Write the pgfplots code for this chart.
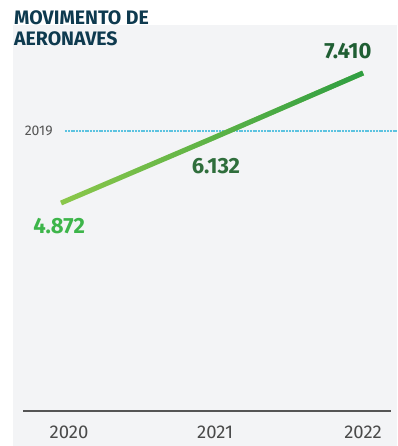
\documentclass[border=0pt]{standalone}
\usepackage{pgfplots}
\pgfplotsset{compat=1.18}
\usepackage{fontspec}
\setmainfont{Fira Sans}
\usetikzlibrary{fadings}
\definecolor{bg}{HTML}{F3F4F6}
\definecolor{titlec}{HTML}{0E3A4F}
\definecolor{axisc}{HTML}{555555}
\definecolor{tickc}{HTML}{4A4A4A}
\definecolor{refc}{HTML}{5CC3E0}
\definecolor{lightg}{HTML}{8CC84B}
\definecolor{darkg}{HTML}{2E9E43}
\definecolor{lab1}{HTML}{3DB54A}
\definecolor{lab2}{HTML}{2F6E3C}
\definecolor{lab3}{HTML}{1F5E33}
\tikzfading[name=gfade, left color=transparent!100, middle color=transparent!85, right color=transparent!0]
\begin{document}
\begin{tikzpicture}[x=1pt,y=1pt]
\path[use as bounding box] (0,0) rectangle (397,446);
\fill[bg] (13,0) rectangle (397,421);
\node[anchor=base west, inner sep=0, font=\fontsize{19.5}{19.5}\selectfont\bfseries, text=titlec] at (14,421.7) {MOVIMENTO DE};
\node[anchor=base west, inner sep=0, font=\fontsize{19.5}{19.5}\selectfont\bfseries, text=titlec] at (14,400.3) {AERONAVES};
\begin{axis}[
  at={(23pt,35pt)}, anchor=south west, scale only axis,
  width=368pt, height=386pt,
  xmin=2019.748, xmax=2022.185, ymin=811, ymax=8347,
  clip=false,
  axis x line*=bottom, axis y line=none,
  x axis line style={draw=axisc, line width=1.5pt, -},
  xtick={2020.053,2021.02,2022},
  xticklabels={2020,2021,2022},
  major tick length=0pt,
  xtick style={draw=none},
  xticklabel style={font=\fontsize{18.5}{18.5}\selectfont, text=tickc, anchor=north, inner sep=0pt, yshift=-15pt},
  /pgf/number format/assume math mode=true,
]
\addplot[refc, line width=2.2pt, dash pattern=on 2pt off 0.8pt] coordinates {(2020.026,6278) (2022.225,6278)};
\addplot[lightg, line width=5pt] coordinates {(2020,4872) (2021,6132) (2022,7410)};
\addplot[darkg, line width=5pt, path fading=gfade] coordinates {(2020,4872) (2021,6132) (2022,7410)};
\node[font=\fontsize{14}{14}\selectfont, text=axisc] at (axis cs:2019.852,6278) {2019};
\node[font=\fontsize{22}{22}\selectfont\bfseries, text=lab1] at (axis cs:2019.987,4416) {4.872};
\node[font=\fontsize{22}{22}\selectfont\bfseries, text=lab2] at (axis cs:2021.026,5583) {6.132};
\node[font=\fontsize{22}{22}\selectfont\bfseries, text=lab3] at (axis cs:2021.90,7830) {7.410};
\end{axis}
\end{tikzpicture}
\end{document}
